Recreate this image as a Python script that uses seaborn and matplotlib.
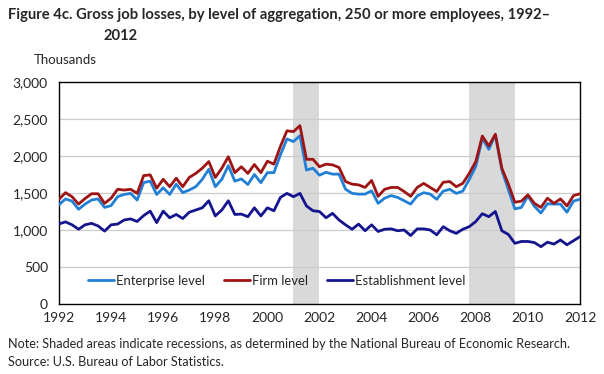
import numpy as np
import pandas as pd
import matplotlib
matplotlib.use("Agg")
import matplotlib.pyplot as plt
import seaborn as sns

# quarterly gross job losses, thousands, 1992 - 2012
enterprise = [1340, 1420, 1390, 1280, 1350, 1405, 1420, 1305, 1330, 1450, 1480, 1495, 1405, 1640, 1660, 1480, 1570, 1480, 1620, 1505,
              1540, 1585, 1685, 1820, 1585, 1685, 1870, 1660, 1690, 1615, 1750, 1640, 1775, 1775, 2015, 2230, 2195, 2275, 1810, 1835,
              1740, 1780, 1755, 1755, 1550, 1495, 1485, 1485, 1530, 1360, 1430, 1465, 1440, 1395, 1350, 1460, 1505, 1485, 1415, 1525,
              1550, 1495, 1525, 1685, 1860, 2240, 2090, 2285, 1810, 1545, 1285, 1305, 1460, 1320, 1230, 1355, 1350, 1350, 1240, 1390, 1415]
firm = [1415, 1505, 1450, 1350, 1425, 1490, 1490, 1360, 1430, 1550, 1540, 1550, 1495, 1735, 1745, 1565, 1685, 1585, 1700, 1585,
        1710, 1765, 1835, 1925, 1710, 1835, 1990, 1775, 1855, 1765, 1885, 1775, 1930, 1890, 2130, 2340, 2330, 2410, 1955, 1955,
        1855, 1890, 1880, 1845, 1655, 1620, 1610, 1575, 1670, 1455, 1550, 1575, 1575, 1520, 1455, 1575, 1630, 1575, 1520, 1645,
        1655, 1585, 1630, 1765, 1925, 2270, 2135, 2295, 1835, 1620, 1375, 1390, 1475, 1360, 1305, 1430, 1360, 1420, 1325, 1465, 1490]
establishment = [1082, 1110, 1070, 1010, 1070, 1090, 1055, 985, 1070, 1080, 1135, 1150, 1115, 1195, 1255, 1100, 1255, 1165, 1210, 1155,
                 1240, 1270, 1300, 1395, 1190, 1270, 1395, 1210, 1215, 1180, 1300, 1190, 1300, 1260, 1440, 1495, 1450, 1495, 1325, 1260,
                 1250, 1165, 1225, 1135, 1070, 1010, 1080, 990, 1070, 980, 1010, 1015, 990, 1000, 925, 1015, 1015, 1000, 935, 1045,
                 990, 955, 1010, 1045, 1115, 1220, 1180, 1250, 990, 940, 820, 845, 845, 830, 775, 835, 810, 865, 800, 855, 910]
years = 1992 + np.arange(len(firm)) / 4
recessions = [(2001.0, 2002.0), (2007.75, 2009.5)]
labels = ["Enterprise level", "Firm level", "Establishment level"]
colors = ["#2180d6", "#9e1414", "#14148f"]

df = pd.DataFrame({"year": np.tile(years, 3),
                   "value": enterprise + firm + establishment,
                   "series": np.repeat(labels, len(years))})

sns.set_style("white")
plt.rcParams["font.family"] = ["Lato", "DejaVu Sans"]

fig = plt.figure(figsize=(6.04, 3.74), dpi=100)
ax = fig.add_axes([59 / 604, 70 / 374, 521 / 604, 222 / 374])

for a, b in recessions:
    ax.axvspan(a, b, color="#d9d9d9", lw=0, zorder=0)
for v in range(500, 3000, 500):
    ax.axhline(v, color="#cccccc", lw=0.9, zorder=0.5)

sns.lineplot(data=df, x="year", y="value", hue="series", hue_order=labels,
             palette=colors, lw=2, ax=ax, zorder=3)

ax.set_xlim(1992, 2012)
ax.set_ylim(0, 3000)
ax.set_xticks(range(1992, 2013, 2))
ax.set_xticks(range(1992, 2013, 1), minor=True)
ax.set_yticks(range(0, 3001, 500))
ax.set_yticklabels([f"{v:,}" for v in range(0, 3001, 500)])
ax.tick_params(axis="x", which="both", direction="in", length=4, width=0.8,
               color="black", labelsize=10, pad=6)
ax.tick_params(axis="y", length=0, labelsize=10, pad=8)
ax.set_xlabel("")
ax.set_ylabel("")
for s in ax.spines.values():
    s.set_color("black")
    s.set_linewidth(1)

ax.legend(loc="center left", bbox_to_anchor=(0.055, 0.104), ncol=3, frameon=False,
          fontsize=9.4, handlelength=2.0, columnspacing=1.4, handletextpad=0.2,
          borderaxespad=0, borderpad=0)

fig.text(8 / 604, 1 - 15 / 374, "Figure 4c. Gross job losses, by level of aggregation, 250 or more employees, 1992\u2013",
         fontsize=10.65, fontweight="bold", va="center", ha="left")
fig.text(103 / 604, 1 - 36 / 374, "2012", fontsize=10.65, fontweight="bold", va="center", ha="left")
fig.text(34 / 604, 1 - 60 / 374, "Thousands", fontsize=9.5, va="center", ha="left")
fig.text(8 / 604, 1 - 344 / 374,
         "Note: Shaded areas indicate recessions, as determined by the National Bureau of Economic Research.",
         fontsize=9.1, va="center", ha="left")
fig.text(8 / 604, 1 - 362 / 374, "Source: U.S. Bureau of Labor Statistics.", fontsize=9.1, va="center", ha="left")

fig.savefig("out.png", dpi=100)
